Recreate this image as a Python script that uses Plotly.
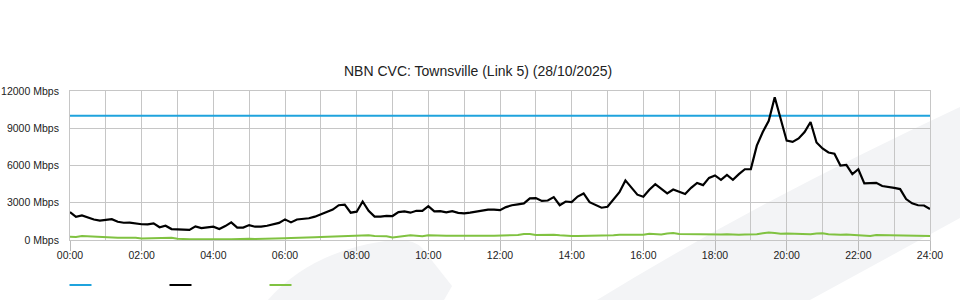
import plotly.graph_objects as go

# ---------------- data (10-minute samples, 00:00 .. 24:00) ----------------
step_minutes = 10
tick_hours = [0, 2, 4, 6, 8, 10, 12, 14, 16, 18, 20, 22, 24]
tick_labels = ["00:00", "02:00", "04:00", "06:00", "08:00", "10:00", "12:00",
               "14:00", "16:00", "18:00", "20:00", "22:00", "24:00"]
y_ticks = [0, 3000, 6000, 9000, 12000]

capacity_mbps = 10000

download_mbps = [
    2250, 1870, 1980, 1800, 1650, 1560, 1650, 1680, 1470, 1390, 1400, 1330,
    1270, 1260, 1340, 1030, 1150, 880, 840, 820, 810, 1100, 960, 1020,
    1070, 890, 1120, 1420, 1000, 1000, 1200, 1070, 1070, 1150, 1270, 1380,
    1660, 1420, 1650, 1700, 1750, 1880, 2050, 2270, 2450, 2800, 2850, 2200,
    2280, 3100, 2350, 1880, 1880, 1950, 1930, 2250, 2300, 2200, 2350, 2350,
    2730, 2300, 2320, 2220, 2330, 2190, 2150, 2200, 2300, 2400, 2450, 2450,
    2400, 2650, 2800, 2870, 2950, 3350, 3380, 3150, 3180, 3450, 2800, 3100,
    3050, 3500, 3750, 3050, 2820, 2600, 2680, 3300, 3850, 4800, 4250, 3650,
    3480, 4050, 4500, 4150, 3750, 4070, 3900, 3700, 4200, 4600, 4420, 5000,
    5200, 4850, 5250, 4850, 5300, 5700, 5710, 7600, 8700, 9600, 11500, 9780,
    8000, 7900, 8180, 8700, 9500, 7850, 7370, 7050, 6950, 6000, 6050, 5300,
    5700, 4560, 4560, 4600, 4350, 4300, 4200, 4100, 3300, 2950, 2800, 2780,
    2500,
]

upload_mbps = [
    270, 250, 320, 300, 230, 200,
    200, 200, 190, 190, 200, 190,
    120, 130, 140, 180, 200, 180,
    100, 60, 60, 60, 70, 60,
    80, 120, 70, 60, 90, 110,
    100, 90, 90, 90, 90, 100,
    150, 170, 170, 190, 200, 220,
    240, 260, 300, 320, 290, 320,
    360, 350, 380, 330, 320, 300,
    200, 280, 330, 380, 320, 300,
    380, 350, 350, 350, 340, 350,
    350, 350, 350, 350, 350, 350,
    350, 350, 360, 400, 480, 480,
    400, 420, 470, 430, 380, 330,
    320, 320, 320, 320, 320, 320,
    320, 380, 420, 420, 420, 430,
    420, 500, 470, 440, 520, 560,
    480, 470, 440, 430, 470, 460,
    430, 440, 470, 430, 420, 440,
    440, 470, 550, 610, 560, 500,
    520, 500, 530, 500, 470, 530,
    540, 460, 430, 430, 450, 420,
    400, 380, 330, 400, 390, 380,
    360, 330, 320, 330, 310, 320,
    330,
]

hours = [i * step_minutes / 60 for i in range(len(download_mbps))]

# ---------------- layout geometry ----------------
W, H = 960, 300
ML, MR, MT, MB = 70, 30, 91, 60
PW, PH = W - ML - MR, H - MT - MB


def px(xp):
    return (xp - ML) / PW


def py(yp):
    return (H - MB - yp) / PH


BLUE = "#1fa3dd"
BLACK = "#000000"
GREEN = "#80c241"
GRID = "#c6c6c6"
FONT = "Arial, Liberation Sans, sans-serif"

fig = go.Figure()
fig.add_trace(go.Scatter(x=[hours[0], hours[-1]], y=[capacity_mbps, capacity_mbps],
                         mode="lines", name="Capacity",
                         line=dict(color=BLUE, width=2)))
fig.add_trace(go.Scatter(x=hours, y=download_mbps, mode="lines", name="Download",
                         line=dict(color=BLACK, width=2.2)))
fig.add_trace(go.Scatter(x=hours, y=upload_mbps, mode="lines", name="Upload",
                         line=dict(color=GREEN, width=2)))

shapes = []
bg = "#f3f4f6"
band = ("M {:.4f},{:.4f} Q {:.4f},{:.4f} {:.4f},{:.4f} L {:.4f},{:.4f} L {:.4f},{:.4f} Z"
        .format(px(597), py(300), px(760), py(200), px(962), py(106),
                px(962), py(217), px(810), py(300)))
shapes.append(dict(type="path", xref="paper", yref="paper", path=band,
                   fillcolor=bg, line=dict(width=0), layer="below"))
wedge = ("M {:.4f},{:.4f} Q {:.4f},{:.4f} {:.4f},{:.4f} Q {:.4f},{:.4f} {:.4f},{:.4f} "
         "L {:.4f},{:.4f} L {:.4f},{:.4f} Z"
         .format(px(268), py(300), px(310), py(252), px(385), py(241),
                 px(412), py(237), px(422), py(248),
                 px(452), py(286), px(444), py(300)))
shapes.append(dict(type="path", xref="paper", yref="paper", path=wedge,
                   fillcolor=bg, line=dict(width=0), layer="below"))

# legend swatches (no text in the original)
for x0, col in [(69.5, BLUE), (169.5, BLACK), (269.5, GREEN)]:
    shapes.append(dict(type="line", xref="paper", yref="paper",
                       x0=px(x0), x1=px(x0 + 22), y0=py(285), y1=py(285),
                       line=dict(color=col, width=2)))

fig.update_layout(
    width=W, height=H,
    margin=dict(l=ML, r=MR, t=MT, b=MB, pad=0, autoexpand=False),
    paper_bgcolor="white",
    plot_bgcolor="rgba(0,0,0,0)",
    showlegend=False,
    font=dict(family=FONT, size=10.5, color="#222222"),
    title=dict(text="NBN CVC: Townsville (Link 5) (28/10/2025)",
               x=0.498, xref="container", xanchor="center",
               y=1 - 71 / H, yref="container", yanchor="middle",
               font=dict(family=FONT, size=14, color="#222222")),
    shapes=shapes,
)

fig.update_xaxes(
    range=[0, 24], tickmode="array", tickvals=tick_hours, ticktext=tick_labels,
    automargin=False,
    showgrid=True, gridcolor=GRID, gridwidth=1,
    minor=dict(dtick=1, showgrid=True, gridcolor=GRID, gridwidth=1, ticks=""),
    ticks="outside", ticklen=10, tickcolor="#bbbbbb", tickwidth=1,
    ticklabelstandoff=-5,
    showline=True, linecolor=GRID, mirror=True, zeroline=False,
    tickfont=dict(size=10.5, color="#222222"),
)
fig.update_yaxes(
    range=[0, 12000], tickmode="array", tickvals=y_ticks,
    ticktext=[f"{v} Mbps" for v in y_ticks],
    automargin=False,
    showgrid=True, gridcolor=GRID, gridwidth=1,
    ticks="outside", ticklen=8, tickcolor="rgba(0,0,0,0)",
    showline=True, linecolor=GRID, mirror=True, zeroline=False,
    tickfont=dict(size=10.5, color="#222222"),
)

fig.write_html("out.html")
